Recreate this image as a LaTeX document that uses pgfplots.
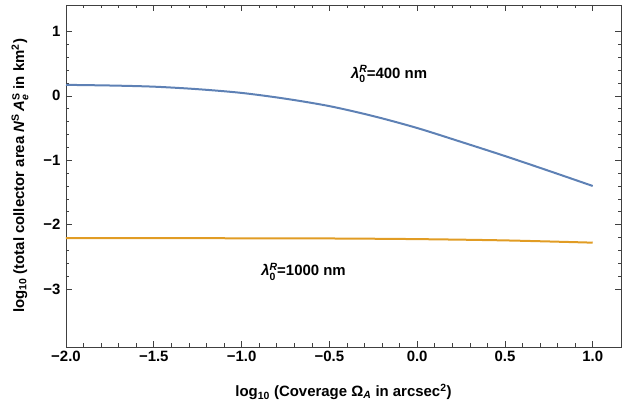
\documentclass[border=0pt]{standalone}
\usepackage{pgfplots}
\pgfplotsset{compat=1.18}
\usepackage{fontspec}
\setmainfont{Liberation Sans}
\definecolor{mblue}{rgb}{0.368,0.507,0.710}
\definecolor{morange}{rgb}{0.881,0.611,0.142}
\newcommand{\supsub}[2]{\raisebox{-0.55ex}{\fontsize{10.5}{9}\selectfont\shortstack[l]{#1\\#2}}}
\begin{document}
\begin{tikzpicture}
\begin{axis}[
  at={(0,0)}, anchor=south west,
  scale only axis, width=555bp, height=342bp,
  xmin=-2, xmax=1.161, ymin=-3.9, ymax=1.41,
  xtick={-2,-1.5,-1,-0.5,0,0.5,1},
  xticklabels={−2.0,−1.5,−1.0,−0.5,0.0,0.5,1.0},
  ytick={-3,-2,-1,0,1},
  yticklabels={−3,−2,−1,0,1},
  minor x tick num=4, minor y tick num=4,
  tick align=inside,
  major tick length=6bp, minor tick length=3.5bp,
  every tick/.style={black!75, line width=0.6bp},
  axis line style={black!75, line width=0.7bp},
  ticklabel style={font=\bfseries\fontsize{15}{17}\selectfont},
  xticklabel style={yshift=-1bp},
  yticklabel style={xshift=-2bp},
  xlabel={log\textsubscript{10} (Coverage Ω\textsubscript{\textit{A}} in arcsec\textsuperscript{2})},
  ylabel={log\textsubscript{10} (total collector area \textit{N}\textsuperscript{S}\,\textit{A}\supsub{S}{\textit{e}} in km\textsuperscript{2})},
  label style={font=\bfseries\fontsize{15}{17}\selectfont},
  xlabel style={at={(axis description cs:0.5,-0.1316)}, anchor=center},
  ylabel style={at={(axis description cs:-0.0829,0.5)}, anchor=center},
  clip=true,
]
\addplot[mblue, line width=2bp, smooth] coordinates {
(-2.0,0.170) (-1.75,0.160) (-1.5,0.142) (-1.25,0.103) (-1.0,0.045)
(-0.75,-0.045) (-0.5,-0.16) (-0.25,-0.315) (0.0,-0.50) (0.25,-0.715)
(0.5,-0.935) (0.75,-1.165) (1.0,-1.40)
};
\addplot[morange, line width=2bp, smooth] coordinates {
(-2.0,-2.21) (-1.5,-2.21) (-1.0,-2.212) (-0.5,-2.215) (0.0,-2.225)
(0.5,-2.245) (1.0,-2.28)
};
\node[font=\bfseries\fontsize{15}{17}\selectfont] at (axis cs:-0.16,0.34)
  {\textit{λ}\supsub{\textit{R}}{0}=400 nm};
\node[font=\bfseries\fontsize{15}{17}\selectfont] at (axis cs:-0.647,-2.73)
  {\textit{λ}\supsub{\textit{R}}{0}=1000 nm};
\end{axis}
\pgfresetboundingbox
\path[use as bounding box] (-66bp,-57bp) rectangle (573bp,347bp);
\end{tikzpicture}
\end{document}
